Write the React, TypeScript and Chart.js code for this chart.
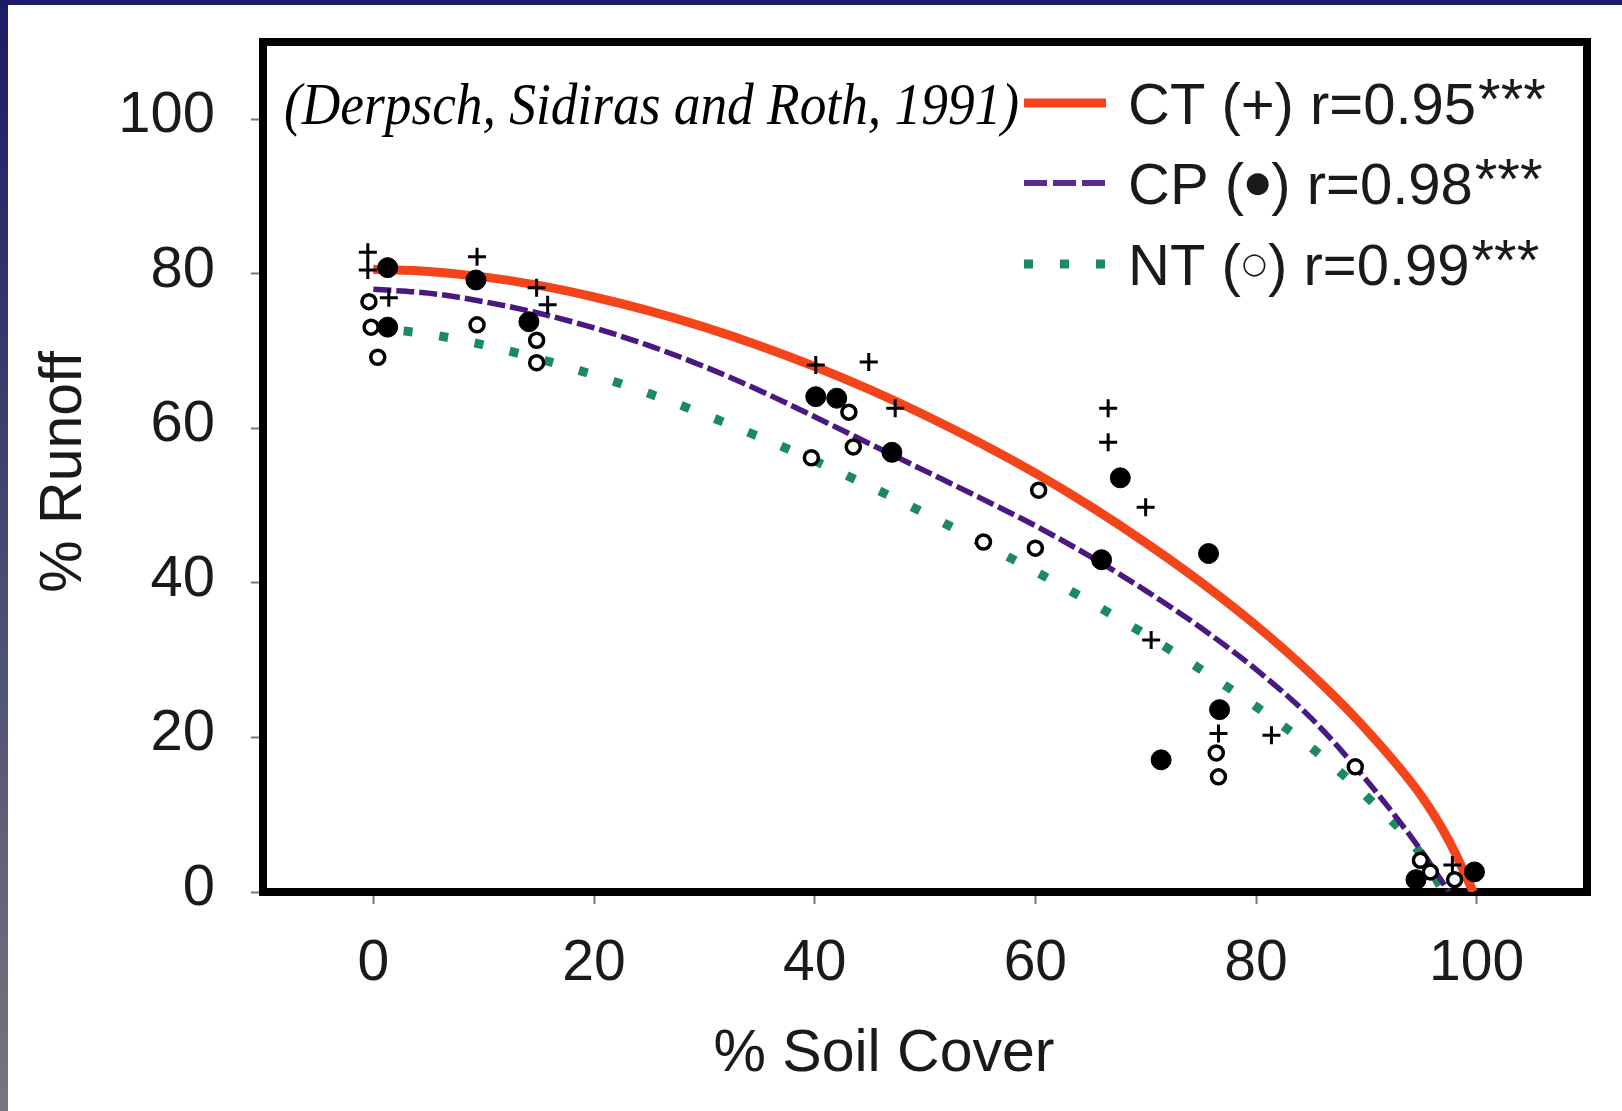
import React, { useEffect, useRef } from "react";
import { Chart, registerables } from "chart.js";

Chart.register(...registerables);

// ---- data ----
const ctX = [-0.5, -0.5, 1.4, 9.4, 14.8, 15.8, 40.1, 44.9, 47.3, 66.6, 66.6, 70.0, 70.5, 76.6, 81.4, 97.8];
const ctY = [82.8, 80.5, 76.9, 82.2, 78.2, 76.0, 68.2, 68.6, 62.6, 62.6, 58.2, 49.8, 32.6, 20.5, 20.3, 3.5];

const cpX = [1.3, 1.3, 9.3, 14.1, 40.1, 42.0, 47.0, 66.0, 67.7, 71.4, 75.7, 76.7, 94.5, 99.8];
const cpY = [80.8, 73.1, 79.2, 73.8, 64.1, 63.9, 56.9, 43.0, 53.6, 17.1, 43.8, 23.6, 1.6, 2.6];

const ntX = [-0.4, -0.2, 0.4, 9.4, 14.8, 14.8, 39.7, 43.1, 43.5, 55.3, 60.0, 60.3, 76.4, 76.6, 89.0, 94.9, 95.8, 98.0];
const ntY = [76.4, 73.1, 69.2, 73.4, 71.4, 68.5, 56.2, 62.1, 57.6, 45.3, 44.5, 52.0, 18.0, 14.9, 16.2, 4.1, 2.6, 1.6];

const ctFitX = [0, 5, 10, 15, 20, 25, 30, 35, 40, 45, 50, 55, 60, 65, 70, 75, 80, 85, 90, 95, 97.5, 99.7];
const ctFitY = [80.6, 80.3, 79.6, 78.5, 77.0, 75.2, 73.1, 70.7, 68.0, 65.0, 61.7, 58.1, 54.2, 49.9, 45.2, 40.1, 34.5, 28.2, 21.0, 12.4, 6.6, 0];

const cpFitX = [0, 5, 10, 15, 20, 25, 30, 35, 40, 45, 50, 55, 60, 65, 70, 75, 80, 85, 90, 95, 97.5];
const cpFitY = [78.0, 77.5, 76.4, 74.9, 73.0, 70.7, 68.0, 64.9, 61.5, 58.0, 54.5, 51.0, 47.4, 43.4, 39.0, 34.2, 28.8, 22.5, 14.5, 5.3, 0];

const ntFitX = [-0.5, 5, 10, 15, 20, 25, 30, 35, 40, 45, 50, 55, 60, 65, 70, 75, 80, 85, 90, 95, 97];
const ntFitY = [73.1, 72.2, 70.8, 69.0, 66.9, 64.5, 61.8, 58.9, 55.8, 52.5, 49.0, 45.3, 41.5, 37.5, 33.3, 28.8, 24.0, 18.7, 12.4, 4.8, 0];

const xTicks = [0, 20, 40, 60, 80, 100];
const yTicks = [0, 20, 40, 60, 80, 100];

const seriesNames = ["CT (+) r=0.95", "CP (\u25CF) r=0.98", "NT (\u25CB) r=0.99"];
const seriesStars = ["***", "***", "***"];
const xTitle = "% Soil Cover";
const yTitle = "% Runoff";
const citation = "(Derpsch, Sidiras and Roth, 1991)";

const RED = "#f4441a";
const PURPLE = "#4a1880";
const GREEN = "#1b8a63";
const SANS = '"Liberation Sans", Arial, sans-serif';
const SYMBOLS = ["\u25CF", "\u25CB"];

const zip = (xs: number[], ys: number[]) => xs.map((x, i) => ({ x, y: ys[i] }));

export default function App() {
  const ref = useRef<HTMLCanvasElement>(null);

  useEffect(() => {
    document.body.style.margin = "0";
    const canvas = ref.current!;

    const drawLegendText = (ctx: CanvasRenderingContext2D, text: string, x: number, base: number, size: number) => {
      let cx = x;
      for (const ch of Array.from(text)) {
        if (SYMBOLS.includes(ch)) {
          ctx.font = `${Math.round(size * 0.5)}px "DejaVu Sans", sans-serif`;
          ctx.textBaseline = "middle";
          const w = ctx.measureText(ch).width;
          ctx.fillText(ch, cx + 1, base - size * 0.34);
          cx += w + 2;
          ctx.textBaseline = "alphabetic";
          ctx.font = `${size}px ${SANS}`;
        } else {
          ctx.font = `${size}px ${SANS}`;
          ctx.fillText(ch, cx, base);
          cx += ctx.measureText(ch).width;
        }
      }
      return cx;
    };

    const deco = {
      id: "deco",
      beforeDatasetsDraw(chart: any) {
        const { ctx, chartArea: a } = chart;
        ctx.save();
        ctx.strokeStyle = "#000";
        ctx.lineWidth = 8;
        ctx.strokeRect(a.left, a.top, a.right - a.left, a.bottom - a.top);
        ctx.restore();
      },
      afterDraw(chart: any) {
        const { ctx } = chart;
        ctx.save();
        ctx.fillStyle = "#1a1a1a";
        // x title
        ctx.font = `59px ${SANS}`;
        ctx.textAlign = "center";
        ctx.textBaseline = "alphabetic";
        ctx.fillText(xTitle, 876, 1066);
        // y title
        ctx.save();
        ctx.translate(73, 467);
        ctx.rotate(-Math.PI / 2);
        ctx.fillText(yTitle, 0, 0);
        ctx.restore();

        // citation
        ctx.font = `italic 60px "Liberation Serif", "Times New Roman", serif`;
        ctx.textAlign = "left";
        const w = ctx.measureText(citation).width;
        ctx.save();
        ctx.translate(276, 119);
        ctx.scale(735 / w, 1);
        ctx.fillStyle = "#000";
        ctx.fillText(citation, 0, 0);
        ctx.restore();

        // legend
        const rows = [98, 178, 259];
        const x0 = 1016, x1 = 1098;
        rows.forEach((y, i) => {
          ctx.save();
          ctx.beginPath();
          if (i === 0) {
            ctx.strokeStyle = RED; ctx.lineWidth = 9; ctx.setLineDash([]);
          } else if (i === 1) {
            ctx.strokeStyle = "#5a2a8c"; ctx.lineWidth = 6; ctx.setLineDash([23, 6]);
          } else {
            ctx.strokeStyle = GREEN; ctx.lineWidth = 9; ctx.setLineDash([9, 27]);
          }
          ctx.lineCap = "butt";
          ctx.moveTo(x0, y);
          ctx.lineTo(x1, y);
          ctx.stroke();
          ctx.restore();
          ctx.textAlign = "left";
          ctx.textBaseline = "alphabetic";
          ctx.fillStyle = "#1a1a1a";
          const base = y + 21;
          const end = drawLegendText(ctx, seriesNames[i], 1120, base, 58);
          ctx.font = `58px ${SANS}`;
          ctx.fillText(seriesStars[i], end + 2, base - 5);
        });
        ctx.restore();
      },
    };

    const chart = new Chart(canvas, {
      type: "scatter",
      data: {
        datasets: [
          {
            label: "CT fit",
            data: zip(ctFitX, ctFitY),
            showLine: true,
            borderColor: RED,
            borderWidth: 9,
            pointRadius: 0,
            cubicInterpolationMode: "monotone",
            order: 3,
          } as any,
          {
            label: "CP fit",
            data: zip(cpFitX, cpFitY),
            showLine: true,
            borderColor: PURPLE,
            borderWidth: 5.5,
            borderDash: [18, 5],
            pointRadius: 0,
            cubicInterpolationMode: "monotone",
            order: 3,
          } as any,
          {
            label: "NT fit",
            data: zip(ntFitX, ntFitY),
            showLine: true,
            borderColor: GREEN,
            borderWidth: 9,
            borderDash: [9, 27],
            borderCapStyle: "butt",
            pointRadius: 0,
            cubicInterpolationMode: "monotone",
            order: 3,
          } as any,
          {
            label: "CT",
            data: zip(ctX, ctY),
            pointStyle: "cross",
            pointRadius: 9,
            borderColor: "#000",
            borderWidth: 3,
            backgroundColor: "#000",
            clip: false,
            order: 1,
          } as any,
          {
            label: "CP",
            data: zip(cpX, cpY),
            pointStyle: "circle",
            pointRadius: 10,
            borderColor: "#000",
            borderWidth: 1,
            backgroundColor: "#000",
            clip: false,
            order: 2,
          } as any,
          {
            label: "NT",
            data: zip(ntX, ntY),
            pointStyle: "circle",
            pointRadius: 7,
            borderColor: "#000",
            borderWidth: 3.5,
            backgroundColor: "#fff",
            clip: false,
            order: 0,
          } as any,
        ],
      },
      options: {
        responsive: false,
        animation: false,
        devicePixelRatio: 1,
        events: [],
        layout: { padding: { left: 0, top: 37, right: 35, bottom: 0 } },
        plugins: { legend: { display: false }, tooltip: { enabled: false }, title: { display: false } },
        scales: {
          x: {
            type: "linear",
            min: -10,
            max: 110,
            afterFit: (s: any) => { s.height = 219; s.paddingLeft = 0; s.paddingRight = 0; },
            afterBuildTicks: (s: any) => { s.ticks = xTicks.map((v) => ({ value: v })); },
            grid: { drawOnChartArea: false, drawTicks: true, tickLength: 12, tickColor: "#777", tickWidth: 2 },
            border: { display: false },
            ticks: { color: "#1a1a1a", font: { size: 57, family: SANS }, padding: 26, maxRotation: 0, autoSkip: false },
          },
          y: {
            type: "linear",
            min: 0,
            max: 110,
            afterFit: (s: any) => { s.width = 255; s.paddingTop = 0; s.paddingBottom = 0; },
            afterBuildTicks: (s: any) => { s.ticks = yTicks.map((v) => ({ value: v })); },
            grid: { drawOnChartArea: false, drawTicks: true, tickLength: 12, tickColor: "#777", tickWidth: 2 },
            border: { display: false },
            ticks: { color: "#1a1a1a", font: { size: 58, family: SANS }, padding: 36, labelOffset: -3, autoSkip: false },
          },
        },
      } as any,
      plugins: [deco],
    });
    return () => chart.destroy();
  }, []);

  return (
    <div
      style={{
        position: "fixed",
        left: 0,
        top: 0,
        width: 1622,
        height: 1111,
        background: "linear-gradient(to bottom, #1b1b68, #76767d)",
      }}
    >
      <div style={{ position: "absolute", left: 8, top: 5, width: 1614, height: 1106, background: "#fff" }}>
        <canvas ref={ref} width={1614} height={1106} style={{ display: "block", width: 1614, height: 1106 }} />
      </div>
    </div>
  );
}
